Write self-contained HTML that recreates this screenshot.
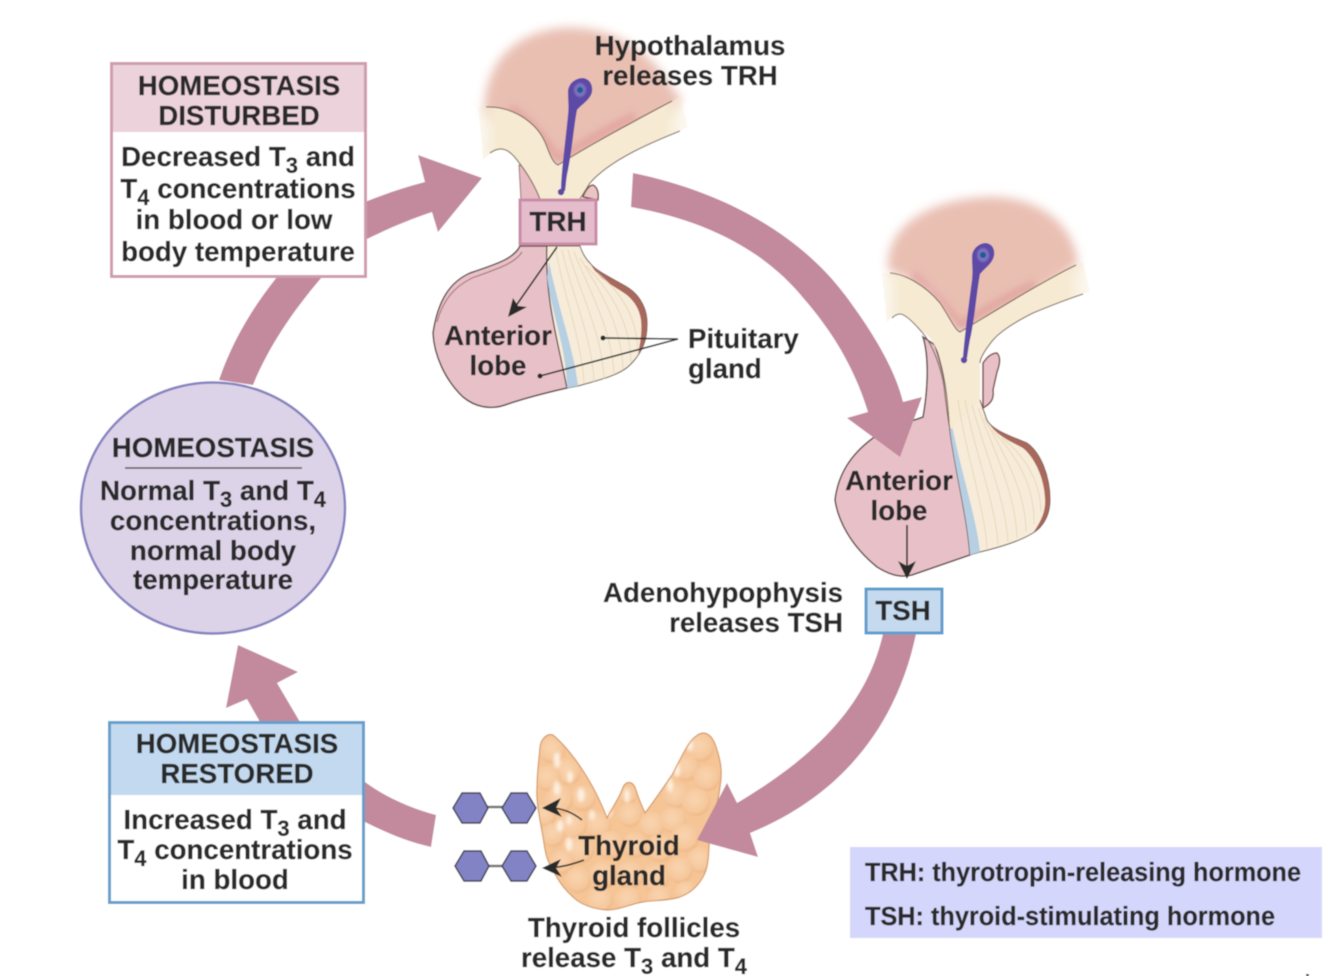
<!DOCTYPE html>
<html lang="en">
<head>
<meta charset="utf-8">
<title>Thyroid hormone homeostasis</title>
<style>
html,body{margin:0;padding:0;background:#fff;width:1334px;height:976px;overflow:hidden}
svg{display:block}
text{font-family:"Liberation Sans",sans-serif;font-weight:700;font-size:27.7px;fill:#2a2a2c;stroke:#2a2a2c;stroke-width:.25}
.m{text-anchor:middle}
.e{text-anchor:end}
.s{font-size:22px}
</style>
</head>
<body>
<svg width="1334" height="976" viewBox="0 0 1334 976" xmlns="http://www.w3.org/2000/svg">
<defs>
<filter id="b6" x="-20%" y="-20%" width="140%" height="140%"><feGaussianBlur stdDeviation="5"/></filter>
<filter id="b3" x="-30%" y="-30%" width="160%" height="160%"><feGaussianBlur stdDeviation="3.500"/></filter>
<filter id="b1" x="-50%" y="-50%" width="200%" height="200%"><feGaussianBlur stdDeviation="1.500"/></filter>
<filter id="b05" x="-10%" y="-10%" width="120%" height="120%"><feGaussianBlur stdDeviation="0.800"/></filter>
<filter id="soft" x="-2%" y="-2%" width="104%" height="104%"><feGaussianBlur stdDeviation="0.55"/></filter>
<radialGradient id="lob" cx="45%" cy="40%" r="60%"><stop offset="0" stop-color="#f9d4af"/><stop offset=".75" stop-color="#f6c89d"/><stop offset="1" stop-color="#eeb684"/></radialGradient>
<linearGradient id="cr1" gradientUnits="userSpaceOnUse" x1="476" y1="0" x2="690" y2="0"><stop offset="0" stop-color="#f6ead3" stop-opacity=".25"/><stop offset=".1" stop-color="#f6ead3"/><stop offset=".88" stop-color="#f6ead3"/><stop offset="1" stop-color="#f6ead3" stop-opacity=".2"/></linearGradient>
<linearGradient id="cr2" gradientUnits="userSpaceOnUse" x1="880" y1="0" x2="1092" y2="0"><stop offset="0" stop-color="#f6ead3" stop-opacity=".25"/><stop offset=".1" stop-color="#f6ead3"/><stop offset=".88" stop-color="#f6ead3"/><stop offset="1" stop-color="#f6ead3" stop-opacity=".2"/></linearGradient>
<clipPath id="thyclip"><path d="M540 747C541 738 548 733 553 735C565 745 578 762 587 777C595 790 602 805 607 818C612 808 618 800 622 790C625 780 633 780 636 790C639 800 642 806 645 813C655 800 665 785 672 775C680 760 688 742 695 737C705 728 713 735 717 750C722 765 722 775 720 787C718 805 712 820 710 833C708 850 710 865 703 877C697 888 688 894 680 897C668 901 655 900 643 902C630 904 620 910 607 910C592 909 580 904 573 897C563 888 558 880 553 870C545 858 545 848 543 837C539 815 536 800 537 787C537 773 539 760 540 747Z"/></clipPath>
</defs>
<g filter="url(#soft)">
<rect width="1334" height="976" fill="#fff"/>

<!-- big arrows behind the boxes -->
<g fill="#c28a9c">
<path d="M365 782C385 797 410 808 436 815L431 847C405 841 385 832 365 822Z"/>
<path d="M260 722L247 699L226 708L238 645L298 672L277 683L300 722Z"/>
<path d="M219 380C232 342 252 308 277 277L322 277C292 312 268 348 253 385Z"/>
<path d="M365 202C385 194 405 187 425 182L418 155L482 178L438 232L432 212C408 220 385 230 365 240Z"/>
<path d="M633 173C725 192 800 235 845 295C860 316 873 335 880 350L850 350C835 335 825 320 805 300C765 250 705 220 631 207Z"/>
</g>

<!-- first pituitary -->
<path d="M484 112C485 70 505 35 560 28C610 24 650 50 670 85L682 100L640 140L558 166Z" fill="#e9bfb2" filter="url(#b6)"/>
<path d="M510 108C532 122 548 145 558 160C585 142 610 128 635 116" fill="none" stroke="#dd9a98" stroke-width="9" opacity=".65" filter="url(#b3)"/>
<path d="M519 165L521 200L545 202L540 170Z" fill="#e7bcc3" stroke="#8c6f66" stroke-width="1"/>
<path d="M583 197C585 190 590 185 593 185C597 187 599 192 598 200Z" fill="#e9c6c4" stroke="#7a5045" stroke-width="1.500"/>
<path d="M478 107C505 103 535 120 545 142C550 155 553 163 558 165C590 145 640 120 680 97L688 127C650 143 610 160 590 183L578 202L541 202C535 185 525 170 517 160C505 145 495 148 483 160C482 140 480 125 478 107Z" fill="url(#cr1)"/>
<path d="M486 107C510 106 535 120 545 142C550 155 553 163 558 165C590 145 630 123 672 101M680 131C650 143 610 160 590 183L578 202M490 153C500 146 508 148 517 160C525 170 535 185 541 202" fill="none" stroke="#7e6a5a" stroke-width="1.100"/>
<path d="M520 246C514 258 500 263 470 273C450 282 438 300 433 333C434 355 445 380 463 397C475 407 490 410 505 405C525 398 545 393 567 388C558 340 545 300 547 246Z" fill="#e8c1c8" stroke="#5f4a4a" stroke-width="1.500"/>
<path d="M522 252C515 263 500 268 472 278C454 287 443 300 437 322" fill="none" stroke="#a77a78" stroke-width="1.200"/>
<path d="M547 246C545 300 558 340 567 388L578 386C600 380 620 375 630 365C642 353 648 340 647 320C646 305 637 293 627 287C612 278 597 272 590 263C585 258 582 252 580 246Z" fill="#f7ecd9" stroke="#5a4a40" stroke-width="1"/>
<path d="M590 263C597 272 612 278 627 287C637 293 646 305 647 320C648 335 644 345 638 354C641 340 642 330 641 320C639 306 631 297 621 291C610 284 597 277 590 263Z" fill="#a9685c"/>
<path d="M547 277C552 315 567 350 567 388L578 386C574 350 560 315 549 262Z" fill="#b6cfe2"/>
<g fill="none" stroke="#e6d3b5" stroke-width=".8">
<path d="M556 250C562 290 582 340 584 384"/><path d="M562 250C570 290 592 335 594 382"/><path d="M568 250C578 288 602 332 604 379"/><path d="M574 252C588 288 612 328 614 375"/><path d="M580 258C596 285 622 322 623 370"/><path d="M586 266C604 284 630 316 631 362"/><path d="M596 272C614 286 636 310 638 350"/>
</g>

<!-- second pituitary -->
<path d="M888 270C885 225 930 200 985 197C1040 195 1075 225 1078 265L1040 290L960 335L930 290Z" fill="#e9bfb2" filter="url(#b6)"/>
<path d="M912 275C932 288 948 310 960 326C985 310 1010 296 1035 284" fill="none" stroke="#dd9a98" stroke-width="9" opacity=".65" filter="url(#b3)"/>
<path d="M923 337C930 360 927 395 923 417C900 425 890 428 873 438C850 455 838 475 835 500C838 520 850 545 877 567C890 575 900 578 912 575L970 555C968 520 955 470 950 430C948 395 945 375 935 345Z" fill="#e8c1c8" stroke="#5f4a4a" stroke-width="1.500"/>
<path d="M950 430C955 470 968 520 970 555L980 552C1005 546 1022 540 1033 533C1043 527 1050 515 1050 500C1050 475 1040 452 1027 443C1010 436 992 430 987 420L980 400L950 400Z" fill="#f7ecd9" stroke="#5a4a40" stroke-width="1"/>
<path d="M987 420C992 430 1010 436 1027 443C1040 452 1050 475 1050 500C1050 515 1042 527 1033 533C1042 520 1046 510 1045 498C1044 478 1035 458 1023 448C1008 440 995 435 987 420Z" fill="#a9685c"/>
<path d="M950 430C955 470 968 520 970 555L980 552C976 515 960 470 950 415Z" fill="#b6cfe2"/>
<path d="M983 363C987 357 992 353 997 353C1001 357 1000 364 997 372L993 390C994 398 992 403 983 408Z" fill="#e8c1c8" stroke="#7a4f48" stroke-width="1.500"/>
<path d="M882 273C900 272 925 285 940 303C950 318 955 330 960 332C1000 308 1045 280 1083 262L1090 292C1065 300 1045 308 1033 313C1015 322 1000 332 993 340C985 350 980 358 980 363L980 400L950 430C948 395 945 375 938 352C932 338 925 332 920 330C913 322 905 314 900 314C892 314 889 320 887 323Z" fill="url(#cr2)"/>
<path d="M890 273C905 274 925 285 940 303C950 318 955 330 960 332C1000 308 1040 283 1076 265M1083 294C1065 300 1045 308 1033 313C1015 322 1000 332 993 340C985 350 980 358 980 363M892 318C895 315 897 314 900 314C905 314 913 322 920 330C932 342 943 370 945 395C947 410 948 420 950 430" fill="none" stroke="#7e6a5a" stroke-width="1.100"/>
<g fill="none" stroke="#e6d3b5" stroke-width=".8">
<path d="M958 400C965 450 985 510 987 548"/><path d="M965 400C974 450 996 505 998 545"/><path d="M972 405C984 450 1006 500 1008 542"/><path d="M978 408C994 450 1016 495 1017 538"/><path d="M984 418C1002 450 1026 490 1026 532"/><path d="M992 430C1012 450 1035 482 1034 524"/><path d="M1002 438C1020 452 1040 475 1041 512"/>
</g>

<!-- arrows over the art -->
<path d="M845 295C875 335 895 370 903 402L922 397L900 457L847 418L868 412C855 370 835 335 805 300C815 280 830 280 845 295Z" fill="#c28a9c"/>

<!-- neurons -->
<path d="M568 92C568 84 575 78 583 78C590 79 593 85 592 92C590 100 582 104 577 110C574 125 572 150 568 170C566 178 566 186 565 191L561 191C561 175 565 145 568 115C569 106 568 100 568 92Z" fill="#5d4aa6"/>
<circle cx="561" cy="192" r="3.200" fill="#5d4aa6"/>
<ellipse cx="580" cy="90" rx="6" ry="7" fill="#7c6fc0" filter="url(#b05)"/>
<circle cx="580" cy="90" r="3" fill="#1f5f8e"/>
<path d="M972 257C972 249 979 243 986 243C993 244 995 250 994 256C992 264 985 268 980 274C977 290 975 315 971 335C969 343 968 352 967 358L963 358C964 342 968 310 972 280C973 270 972 264 972 257Z" fill="#5d4aa6"/>
<circle cx="964" cy="360" r="3.200" fill="#5d4aa6"/>
<ellipse cx="983" cy="255" rx="6" ry="7" fill="#7c6fc0" filter="url(#b05)"/>
<circle cx="983" cy="255" r="3" fill="#1f5f8e"/>

<!-- thyroid -->
<path d="M540 747C541 738 548 733 553 735C565 745 578 762 587 777C595 790 602 805 607 818C612 808 618 800 622 790C625 780 633 780 636 790C639 800 642 806 645 813C655 800 665 785 672 775C680 760 688 742 695 737C705 728 713 735 717 750C722 765 722 775 720 787C718 805 712 820 710 833C708 850 710 865 703 877C697 888 688 894 680 897C668 901 655 900 643 902C630 904 620 910 607 910C592 909 580 904 573 897C563 888 558 880 553 870C545 858 545 848 543 837C539 815 536 800 537 787C537 773 539 760 540 747Z" fill="#f5c596"/>
<g clip-path="url(#thyclip)"><g fill="url(#lob)" filter="url(#b05)">
<circle cx="552" cy="750" r="13"/><circle cx="568" cy="772" r="13"/><circle cx="548" cy="778" r="13"/><circle cx="583" cy="798" r="13"/><circle cx="559" cy="800" r="14"/><circle cx="545" cy="815" r="11"/><circle cx="598" cy="825" r="13"/><circle cx="573" cy="825" r="14"/><circle cx="553" cy="835" r="12"/><circle cx="628" cy="795" r="9"/><circle cx="630" cy="815" r="12"/><circle cx="652" cy="825" r="13"/><circle cx="676" cy="795" r="13"/><circle cx="700" cy="748" r="14"/><circle cx="686" cy="768" r="13"/><circle cx="707" cy="778" r="13"/><circle cx="696" cy="802" r="14"/><circle cx="673" cy="820" r="13"/><circle cx="610" cy="845" r="14"/><circle cx="635" cy="845" r="13"/><circle cx="660" cy="848" r="14"/><circle cx="685" cy="838" r="14"/><circle cx="700" cy="860" r="13"/><circle cx="580" cy="850" r="14"/><circle cx="562" cy="862" r="12"/><circle cx="680" cy="870" r="13"/><circle cx="655" cy="878" r="14"/><circle cx="630" cy="875" r="14"/><circle cx="603" cy="875" r="14"/><circle cx="578" cy="880" r="13"/><circle cx="600" cy="900" r="13"/><circle cx="628" cy="900" r="13"/><circle cx="660" cy="898" r="12"/><circle cx="686" cy="892" r="11"/>
</g></g>
<g fill="#fff6ec" filter="url(#b1)" opacity=".85">
<ellipse cx="557" cy="760" rx="3.500" ry="8"/><ellipse cx="570" cy="777" rx="3" ry="6"/><ellipse cx="557" cy="788" rx="3.500" ry="7"/><ellipse cx="581" cy="795" rx="3.500" ry="7"/><ellipse cx="592" cy="815" rx="3" ry="5"/><ellipse cx="560" cy="826" rx="3.500" ry="6"/><ellipse cx="569" cy="820" rx="2.500" ry="5"/><ellipse cx="569" cy="844" rx="3.500" ry="7"/><ellipse cx="627" cy="796" rx="2.500" ry="7"/><ellipse cx="677" cy="770" rx="3" ry="7"/><ellipse cx="670" cy="785" rx="3" ry="7"/><ellipse cx="690" cy="745" rx="3" ry="6"/><ellipse cx="609" cy="812" rx="3" ry="5"/>
</g>
<path d="M540 747C541 738 548 733 553 735C565 745 578 762 587 777C595 790 602 805 607 818C612 808 618 800 622 790C625 780 633 780 636 790C639 800 642 806 645 813C655 800 665 785 672 775C680 760 688 742 695 737C705 728 713 735 717 750C722 765 722 775 720 787C718 805 712 820 710 833C708 850 710 865 703 877C697 888 688 894 680 897C668 901 655 900 643 902C630 904 620 910 607 910C592 909 580 904 573 897C563 888 558 880 553 870C545 858 545 848 543 837C539 815 536 800 537 787C537 773 539 760 540 747Z" fill="none" stroke="#d69a68" stroke-width="1.200"/>
<path d="M883 634C870 690 835 745 737 803L727 783L697 840L758 857L750 833C855 790 900 710 916 634Z" fill="#c28a9c"/>

<!-- hexagons -->
<g stroke="#777" stroke-width="2.500"><line x1="485" y1="807" x2="505" y2="807"/><line x1="485" y1="866" x2="505" y2="866"/></g>
<g fill="#8283c4" stroke="#3f3f55" stroke-width="1.500">
<polygon points="453,808 462,793 480,793 488,808 480,823 462,823"/>
<polygon points="502,808 511,793 527,793 536,808 527,823 511,823"/>
<polygon points="455,866 464,851 481,851 489,866 481,881 464,881"/>
<polygon points="502,866 511,851 527,851 536,866 527,881 511,881"/>
</g>

<!-- thin arrows -->
<g fill="none" stroke="#2b2b2b" stroke-width="1.600">
<path d="M582 820C572 812 562 808 550 808"/>
<path d="M584 860C574 864 562 867 550 868"/>
<line x1="557" y1="247" x2="513" y2="310"/>
<line x1="907" y1="525" x2="907" y2="568"/>
<line x1="603" y1="338" x2="678" y2="339"/>
<line x1="540" y1="376" x2="678" y2="339"/>
</g>
<g fill="#2b2b2b">
<polygon points="542,808 561,798 556,808 562,817"/>
<polygon points="542,868 561,859 556,868 562,877"/>
<polygon points="508,317 513,298 518,306 527,307"/>
<polygon points="907,579 898,561 907,566 916,561"/>
<circle cx="603" cy="338" r="2.500"/>
<circle cx="540" cy="376" r="2.500"/>
</g>

<!-- boxes -->
<rect x="111.500" y="63.500" width="254" height="213" fill="#fff" stroke="#cf9caf" stroke-width="3"/>
<rect x="113" y="65" width="251" height="67" fill="#ecd2db"/>
<rect x="109.500" y="722.500" width="254" height="180" fill="#fff" stroke="#659dcb" stroke-width="3"/>
<rect x="111" y="724" width="251" height="71" fill="#c3d9ef"/>
<ellipse cx="213" cy="508" rx="132" ry="125.500" fill="#ddd3e8" stroke="#8582bf" stroke-width="2.500"/>
<line x1="125" y1="468" x2="302" y2="468" stroke="#555" stroke-width="1.500"/>
<rect x="520" y="200" width="76" height="44" fill="#e4bccb" stroke="#c98ca6" stroke-width="3"/>
<rect x="866" y="589" width="76" height="44" fill="#c5daef" stroke="#5f9ccb" stroke-width="3"/>
<rect x="850" y="847" width="472" height="91" fill="#d4d6fb"/>
<rect x="1306" y="974" width="3" height="2" fill="#444"/>

<!-- labels -->
<text class="m" x="239" y="95">HOMEOSTASIS</text>
<text class="m" x="239" y="125">DISTURBED</text>
<text class="m" x="238" y="166">Decreased T<tspan class="s" dy="7">3</tspan><tspan dy="-7"> and</tspan></text>
<text class="m" x="238" y="198">T<tspan class="s" dy="7">4</tspan><tspan dy="-7"> concentrations</tspan></text>
<text class="m" x="234" y="229">in blood or low</text>
<text class="m" x="238" y="261">body temperature</text>

<text class="m" x="213" y="457">HOMEOSTASIS</text>
<text class="m" x="213" y="500">Normal T<tspan class="s" dy="7">3</tspan><tspan dy="-7"> and T</tspan><tspan class="s" dy="7">4</tspan></text>
<text class="m" x="213" y="530">concentrations,</text>
<text class="m" x="213" y="560">normal body</text>
<text class="m" x="213" y="589">temperature</text>

<text class="m" x="237" y="753">HOMEOSTASIS</text>
<text class="m" x="237" y="783">RESTORED</text>
<text class="m" x="235" y="829">Increased T<tspan class="s" dy="7">3</tspan><tspan dy="-7"> and</tspan></text>
<text class="m" x="235" y="859">T<tspan class="s" dy="7">4</tspan><tspan dy="-7"> concentrations</tspan></text>
<text class="m" x="235" y="889">in blood</text>

<text class="m" x="690" y="55">Hypothalamus</text>
<text class="m" x="690" y="85">releases TRH</text>
<text class="m" x="558" y="231">TRH</text>
<text class="m" x="498" y="345">Anterior</text>
<text class="m" x="498" y="375">lobe</text>
<text x="688" y="348">Pituitary</text>
<text x="688" y="378">gland</text>
<text class="m" x="899" y="490">Anterior</text>
<text class="m" x="899" y="520">lobe</text>
<text class="e" x="843" y="602">Adenohypophysis</text>
<text class="e" x="843" y="632">releases TSH</text>
<text class="m" x="903" y="620">TSH</text>
<text class="m" x="629" y="855">Thyroid</text>
<text class="m" x="629" y="885">gland</text>
<text class="m" x="634" y="937">Thyroid follicles</text>
<text class="m" x="634" y="967">release T<tspan class="s" dy="7">3</tspan><tspan dy="-7"> and T</tspan><tspan class="s" dy="7">4</tspan></text>
<text x="865" y="881" textLength="436" lengthAdjust="spacingAndGlyphs" style="font-size:25.5px">TRH: thyrotropin-releasing hormone</text>
<text x="865" y="925" textLength="410" lengthAdjust="spacingAndGlyphs" style="font-size:25.5px">TSH: thyroid-stimulating hormone</text>
</g>
</svg>
</body>
</html>
